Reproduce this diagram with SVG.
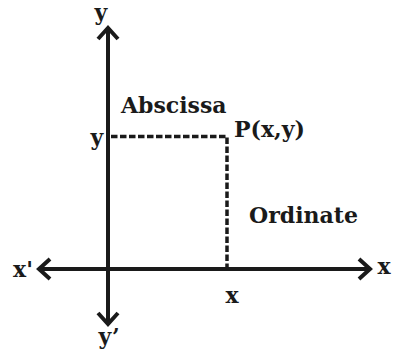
<svg xmlns="http://www.w3.org/2000/svg" width="393" height="352" viewBox="0 0 393 352">
  <style>
    .axis { stroke: #1a1a1a; stroke-width: 4; fill: none; }
    .head { stroke: #1a1a1a; stroke-width: 4; fill: none; stroke-linejoin: miter; }
    .dash { stroke: #1a1a1a; stroke-width: 3.5; fill: none; stroke-dasharray: 6.5 2.5; }
    .lbl { font-family: "DejaVu Serif", "Liberation Serif", serif; font-weight: bold; font-size: 22px; fill: #1a1a1a; }
  </style>
  <rect width="393" height="352" fill="#ffffff"/>
  <g id="connectors">
    <line class="axis" x1="108" y1="28" x2="108" y2="324"/>
    <line class="axis" x1="39" y1="269" x2="370" y2="269"/>
    <polyline class="head" points="98,39 108,28 118,39"/>
    <polyline class="head" points="98,313 108,324 118,313"/>
    <polyline class="head" points="50,259 39,269 50,279"/>
    <polyline class="head" points="359,259 370,269 359,279"/>
    <polyline class="dash" points="111,136.5 227,136.5 227,267"/>
  </g>
  <g id="axis-labels">
    <text class="lbl" x="101" y="20" text-anchor="middle">y</text>
    <text class="lbl" x="23" y="277" text-anchor="middle">x'</text>
    <text class="lbl" x="384" y="274" text-anchor="middle">x</text>
    <text class="lbl" x="109" y="344" text-anchor="middle">y’</text>
  </g>
  <g id="point-P">
    <text class="lbl" x="234" y="137">P(x,y)</text>
  </g>
  <g id="abscissa">
    <text class="lbl" x="121" y="113">Abscissa</text>
    <text class="lbl" x="97" y="145" text-anchor="middle">y</text>
  </g>
  <g id="ordinate">
    <text class="lbl" x="249" y="223">Ordinate</text>
    <text class="lbl" x="232" y="303" text-anchor="middle">x</text>
  </g>
</svg>
